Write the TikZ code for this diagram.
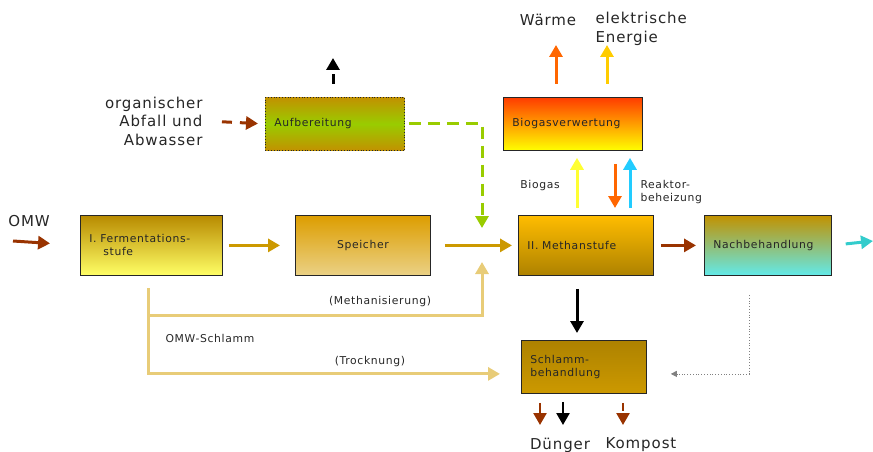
\documentclass[tikz,border=0pt]{standalone}
\usepackage{fontspec}
\setmainfont{DejaVu Sans}[LetterSpace=6]
\usepackage{xcolor}
\usetikzlibrary{arrows.meta,positioning}

\definecolor{rust}{HTML}{993300}
\definecolor{gold}{HTML}{CC9900}
\definecolor{paleGold}{HTML}{E8CC78}
\definecolor{lime}{HTML}{99CC00}
\definecolor{teal}{HTML}{33CCCC}
\definecolor{sky}{HTML}{22CCFF}
\definecolor{flame}{HTML}{FF6600}
\definecolor{amber}{HTML}{FFCC00}
\definecolor{lemon}{HTML}{FFFF33}
\definecolor{fire}{HTML}{FF3C00}

\begin{document}
\begin{tikzpicture}[
  x=1pt, y=-1pt,
  procbox/.style={draw=black!85, line width=0.8pt, anchor=north west, align=left,
    inner xsep=9pt, inner ysep=0pt, font=\fontsize{10.8}{13}\selectfont, text=black!85},
  bigtext/.style={font=\fontsize{15}{18.5}\selectfont, text=black!85},
  smalltext/.style={font=\fontsize{10.8}{13}\selectfont, text=black!85},
  arr/.style={-{Triangle[width=13pt,length=12pt]}, line width=3pt},
  thinarr/.style={-{Triangle[width=13pt,length=12pt]}, line width=2.5pt},
]

\useasboundingbox (0,0) rectangle (873,452);

% ===== boxes =====
\node[procbox, dotted, text width=121pt, minimum height=53pt,
  top color=gold!95!black, bottom color=gold!95!black, middle color=lime] (aufb) at (265,97) {Aufbereitung};
\node[procbox, text width=121pt, minimum height=53pt,
  top color=fire, bottom color=yellow] (biogas) at (503,97) {Biogasverwertung};
\node[procbox, text width=124pt, minimum height=60pt,
  top color=gold!90!black, bottom color=yellow!60] (ferm) at (80,215) {I. Fermentations-\\\hspace*{14pt}stufe\\[5pt]};
\node[procbox, align=center, text width=117pt, minimum height=60pt,
  top color=gold!75!orange!90!yellow, bottom color=paleGold!90!white] (speicher) at (295,215) {Speicher};
\node[procbox, text width=117pt, minimum height=60pt,
  top color=amber!80!orange, bottom color=gold!85!black] (methan) at (518,215) {II. Methanstufe};
\node[procbox, text width=109pt, minimum height=60pt,
  top color=gold!95!black, bottom color=teal!60!cyan!70!white] (nach) at (704,215) {Nachbehandlung};
\node[procbox, text width=107pt, minimum height=53pt,
  top color=gold!85!black, bottom color=gold] (schlamm) at (521,340) {Schlamm-\\behandlung};

% ===== texts =====
\node[bigtext, align=right, anchor=east] (orgtext) at (206,121) {organischer\\Abfall und\\Abwasser};
\node[bigtext] (omwtext) at (29,221) {OMW};
\node[bigtext] (waerme) at (548,20) {Wärme};
\node[bigtext, align=left, anchor=west] (energie) at (592,29) {elektrische\\Energie};
\node[bigtext] (duenger) at (560,445) {Dünger};
\node[bigtext] (kompost) at (641,445) {Kompost};
\node[smalltext] (biogaslbl) at (540,186) {Biogas};
\node[smalltext, align=left, anchor=west] (heizlbl) at (637,192) {Reaktor-\\beheizung};
\node[smalltext] (methlbl) at (380,302) {(Methanisierung)};
\node[smalltext, anchor=west] (schlbl) at (162,338) {OMW-Schlamm};
\node[smalltext] (trocklbl) at (370,362) {(Trocknung)};

% ===== coordinates =====
\coordinate (omwin) at (13,241);
\coordinate (merge) at (482,241);
\coordinate (rightout) at (873,241);
\coordinate (upout) at (333,58);
\coordinate (warmout) at (556,45);
\coordinate (elout) at (607,45);
\coordinate (gasx) at (577,0);
\coordinate (heatx) at (615,0);
\coordinate (backx) at (630,0);
\coordinate (split) at (148,288);
\coordinate (methsplit) at (148,315);
\coordinate (nachdot) at (749,295);
\coordinate (dueng1) at (540,425);
\coordinate (dueng2) at (563,425);
\coordinate (kompout) at (623,425);

% ===== main line =====
\draw[arr, rust, shorten >=30pt] (omwin) -- (ferm.west);
\draw[arr, gold, shorten <=6pt, shorten >=15pt] (ferm.east) -- (speicher.west);
\draw[arr, gold, shorten <=14pt, shorten >=6pt] (speicher.east) -- (methan.west);
\draw[arr, rust, shorten <=7pt, shorten >=8pt] (methan.east) -- (nach.west);
\draw[arr, teal, shorten <=14pt] (nach.east) -- (rightout);

% ===== input, Aufbereitung =====
\draw[arr, rust, dash pattern=on 10pt off 8pt, shorten <=16pt, shorten >=7pt] (orgtext.east) -- (aufb.west);
\draw[arr, black, dash pattern=on 10pt off 4pt, shorten <=13pt] (aufb.north -| upout) -- (upout);
\draw[arr, lime, dash pattern=on 12pt off 7pt, shorten <=4pt, shorten >=13pt] (aufb.east) -| (merge);

% ===== biogas =====
\draw[arr, lemon, shorten <=7pt, shorten >=7pt] (methan.north -| gasx) -- (biogas.south -| gasx);
\draw[arr, flame, shorten <=13pt, shorten >=7pt] (biogas.south -| heatx) -- (methan.north -| heatx);
\draw[arr, sky, shorten <=7pt, shorten >=7pt] (methan.north -| backx) -- (biogas.south -| backx);
\draw[arr, flame, shorten <=13pt] (biogas.north -| warmout) -- (warmout);
\draw[arr, amber, shorten <=13pt] (biogas.north -| elout) -- (elout);

% ===== sludge =====
\draw[arr, black, shorten <=13pt, shorten >=7pt] (methan.south -| gasx) -- (schlamm.north -| gasx);
\draw[arr, paleGold, shorten >=21pt] (methsplit) -| (merge);
\draw[arr, paleGold, shorten >=21pt] (split) |- ([yshift=-7pt]schlamm.west);
\draw[-{Triangle[width=6pt,length=6pt]}, gray, dotted, line width=0.8pt, shorten >=24pt] (nachdot) |- ([yshift=-7pt]schlamm.east);

% ===== products =====
\draw[thinarr, rust, shorten <=9pt] (schlamm.south -| dueng1) -- (dueng1);
\draw[thinarr, black, shorten <=8pt] (schlamm.south -| dueng2) -- (dueng2);
\draw[thinarr, rust, dash pattern=on 8pt off 4pt, shorten <=9pt] (schlamm.south -| kompout) -- (kompout);

\end{tikzpicture}
\end{document}
